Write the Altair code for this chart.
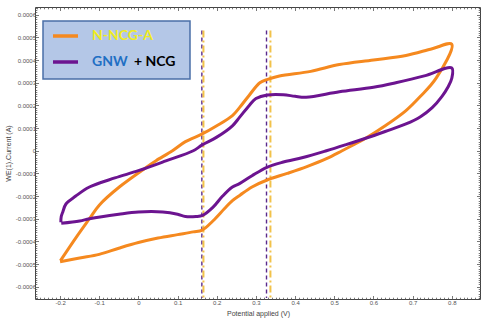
import altair as alt
import numpy as np
import pandas as pd

# ---- data ----
ncga_v = [-0.2, -0.15, -0.1, -0.05, 0.0, 0.05, 0.1, 0.14, 0.163, 0.19, 0.22, 0.24, 0.26, 0.29,
          0.33, 0.38, 0.43, 0.48, 0.52, 0.58, 0.63, 0.683, 0.72, 0.76, 0.8,
          0.75, 0.683, 0.6, 0.513, 0.44, 0.36, 0.33, 0.31, 0.283, 0.258, 0.24, 0.2, 0.163,
          0.12, 0.087, 0.045, 0.028, -0.048, -0.1, -0.125, -0.158, -0.199]
ncga_i = [-0.00049, -0.000473, -0.000457, -0.00043, -0.000405, -0.000385, -0.00037, -0.000358,
          -0.00035, -0.00031, -0.000255, -0.00022, -0.000195, -0.00016, -0.000128, -0.0001,
          -0.00007, -0.000035, 0.0, 0.000055, 0.00011, 0.000177, 0.00024, 0.00032, 0.00047,
          0.00045, 0.00042, 0.0004, 0.00038, 0.00035, 0.00033, 0.000315, 0.0003, 0.000245,
          0.00019, 0.000155, 0.00011, 0.000074, 0.00004, 0.0, -0.000044, -0.000064, -0.000159,
          -0.00024, -0.0003, -0.00038, -0.000485]

gnw_v = [-0.197, -0.15, -0.125, -0.05, 0.0, 0.062, 0.1, 0.12, 0.147, 0.164, 0.19, 0.215, 0.24,
         0.258, 0.29, 0.328, 0.37, 0.42, 0.48, 0.53, 0.58, 0.63, 0.683, 0.72, 0.75, 0.775, 0.79,
         0.8, 0.8, 0.73, 0.657, 0.6, 0.513, 0.428, 0.4, 0.37, 0.33, 0.3, 0.283, 0.258, 0.24, 0.2,
         0.163, 0.14, 0.07, 0.0, -0.06, -0.125, -0.16, -0.185, -0.193, -0.197, -0.198]
gnw_i = [-0.00032, -0.00031, -0.0003, -0.00028, -0.00027, -0.00027, -0.00028, -0.00029, -0.00029,
         -0.000285, -0.00025, -0.0002, -0.00016, -0.000145, -0.00011, -0.000073, -0.00005,
         -0.00003, 0.0, 0.000027, 0.000055, 0.000085, 0.000118, 0.00015, 0.00019, 0.00024,
         0.00028, 0.00032, 0.000365, 0.00033, 0.0003, 0.00028, 0.00026, 0.000236, 0.00024,
         0.000247, 0.000246, 0.00023, 0.0002, 0.000147, 0.00011, 0.00006, 0.000026, 0.0,
         -0.000045, -0.000088, -0.00012, -0.00016, -0.0002, -0.000235, -0.00027, -0.00029,
         -0.000315]

series_names = ["N-NCG-A", "GNW + NCG"]
series_colors = ["#f5891f", "#6c1490"]

# peak-marker lines (potential, V)
purple_peaks = [0.162, 0.327]
orange_peaks = [0.166, 0.337]
peak_top = 0.00053
peak_bottom = -0.00065

x_domain = [-0.264, 0.872]
y_domain = [-0.000654, 0.000634]

# ---- build tables ----
df = pd.concat([
    pd.DataFrame({"v": ncga_v, "i": ncga_i, "s": series_names[0], "k": range(len(ncga_v))}),
    pd.DataFrame({"v": gnw_v, "i": gnw_i, "s": series_names[1], "k": range(len(gnw_v))}),
])
df_pp = pd.DataFrame({"v": purple_peaks, "top": peak_top, "bot": peak_bottom})
df_op = pd.DataFrame({"v": orange_peaks, "top": peak_top, "bot": peak_bottom})
one = pd.DataFrame({"a": [0]})

W, H = 445, 292

x_ticks = [round(t, 2) for t in np.arange(-0.26, 0.8701, 0.01)]
y_ticks = [round(t, 6) for t in np.arange(-0.00065, 0.000631, 0.00001)]
x_major = "abs(datum.value*10 - round(datum.value*10)) < 0.001"
y_major = "abs(datum.value*10000 - round(datum.value*10000)) < 0.001"

axis_common = dict(grid=False, domain=False, tickColor="#555", tickWidth=0.8,
                   labelFont="Liberation Sans", labelFontSize=6, labelColor="#555",
                   titleFont="Liberation Sans", titleFontSize=7, titleColor="#444",
                   titleFontWeight="normal")

x_axis = alt.Axis(orient="bottom", values=x_ticks,
                  tickSize={"condition": {"test": x_major, "value": -3.5}, "value": -1.8},
                  labelExpr=f"{x_major} ? toString(round(datum.value*10)/10) : ''",
                  labelPadding=4, title="Potential applied (V)",
                  titleX=223, titleY=14, titleBaseline="middle", titleAlign="center",
                  labelOverlap=False, **axis_common)
y_axis = alt.Axis(orient="left", values=y_ticks,
                  tickSize={"condition": {"test": y_major, "value": -3.5}, "value": -1.8},
                  labelExpr=f"{y_major} ? toString(round(datum.value*10000)/10000) : ''",
                  labelPadding=3, title="WE(1).Current (A)",
                  titleX=-27, titleY=146, titleBaseline="middle", titleAlign="center",
                  titleAngle=270, labelOverlap=False, **axis_common)
x_axis_top = alt.Axis(orient="top", values=x_ticks, labels=False, title=None,
                      tickSize={"condition": {"test": x_major, "value": -3.5}, "value": -1.8},
                      **axis_common)
y_axis_right = alt.Axis(orient="right", values=y_ticks, labels=False, title=None,
                        tickSize={"condition": {"test": y_major, "value": -3.5}, "value": -1.8},
                        **axis_common)

xs = alt.Scale(domain=x_domain, nice=False, zero=False)
ys = alt.Scale(domain=y_domain, nice=False, zero=False)

lines = alt.Chart(df).mark_line(strokeWidth=3, clip=True, interpolate="catmull-rom").encode(
    x=alt.X("v:Q", scale=xs, axis=x_axis),
    y=alt.Y("i:Q", scale=ys, axis=y_axis),
    color=alt.Color("s:N", scale=alt.Scale(domain=series_names, range=series_colors), legend=None),
    detail="s:N",
    order="k:Q",
)

rules_p = alt.Chart(df_pp).mark_rule(color="#5b2a8c", strokeWidth=1.4, strokeDash=[4, 3]).encode(
    x=alt.X("v:Q", scale=xs, axis=x_axis_top),
    y=alt.Y("top:Q", scale=ys, axis=y_axis_right),
    y2="bot:Q",
)
rules_o = alt.Chart(df_op).mark_rule(color="#f2c24a", strokeWidth=2, strokeDash=[7, 3, 2, 3]).encode(
    x=alt.X("v:Q", scale=xs, axis=None),
    y=alt.Y("top:Q", scale=ys, axis=None),
    y2="bot:Q",
)

legend_box = alt.Chart(one).mark_rect(fill="#b4c7e7", stroke="#4a6fa8", strokeWidth=1.5).encode(
    x=alt.value(8), x2=alt.value(155), y=alt.value(14), y2=alt.value(72))
leg_l1 = alt.Chart(one).mark_rule(color=series_colors[0], strokeWidth=3.5).encode(
    x=alt.value(18), x2=alt.value(43), y=alt.value(29))
leg_l2 = alt.Chart(one).mark_rule(color=series_colors[1], strokeWidth=3.5).encode(
    x=alt.value(18), x2=alt.value(43), y=alt.value(55))
txt_style = dict(align="left", baseline="middle", font="Lato", fontSize=14, fontWeight="bold")
leg_t1 = alt.Chart(one).mark_text(color="#f0ec1e", **txt_style).encode(
    x=alt.value(57), y=alt.value(29), text=alt.value("N-NCG-A"))
leg_t2 = alt.Chart(one).mark_text(color="#1f6fc4", **txt_style).encode(
    x=alt.value(57), y=alt.value(55), text=alt.value("GNW"))
leg_t3 = alt.Chart(one).mark_text(color="#000000", **txt_style).encode(
    x=alt.value(99), y=alt.value(55), text=alt.value("+ NCG"))

chart = alt.layer(
    rules_p, rules_o, lines, legend_box, leg_l1, leg_l2, leg_t1, leg_t2, leg_t3
).resolve_axis(x="independent", y="independent").properties(
    width=W, height=H,
    autosize=alt.AutoSizeParams(type="none"),
    padding={"left": 35, "top": 7, "right": 14, "bottom": 23},
    background="white",
).configure_view(stroke="#444", strokeWidth=1)

chart.save("out.html", embed_options={"renderer": "svg", "actions": False})
